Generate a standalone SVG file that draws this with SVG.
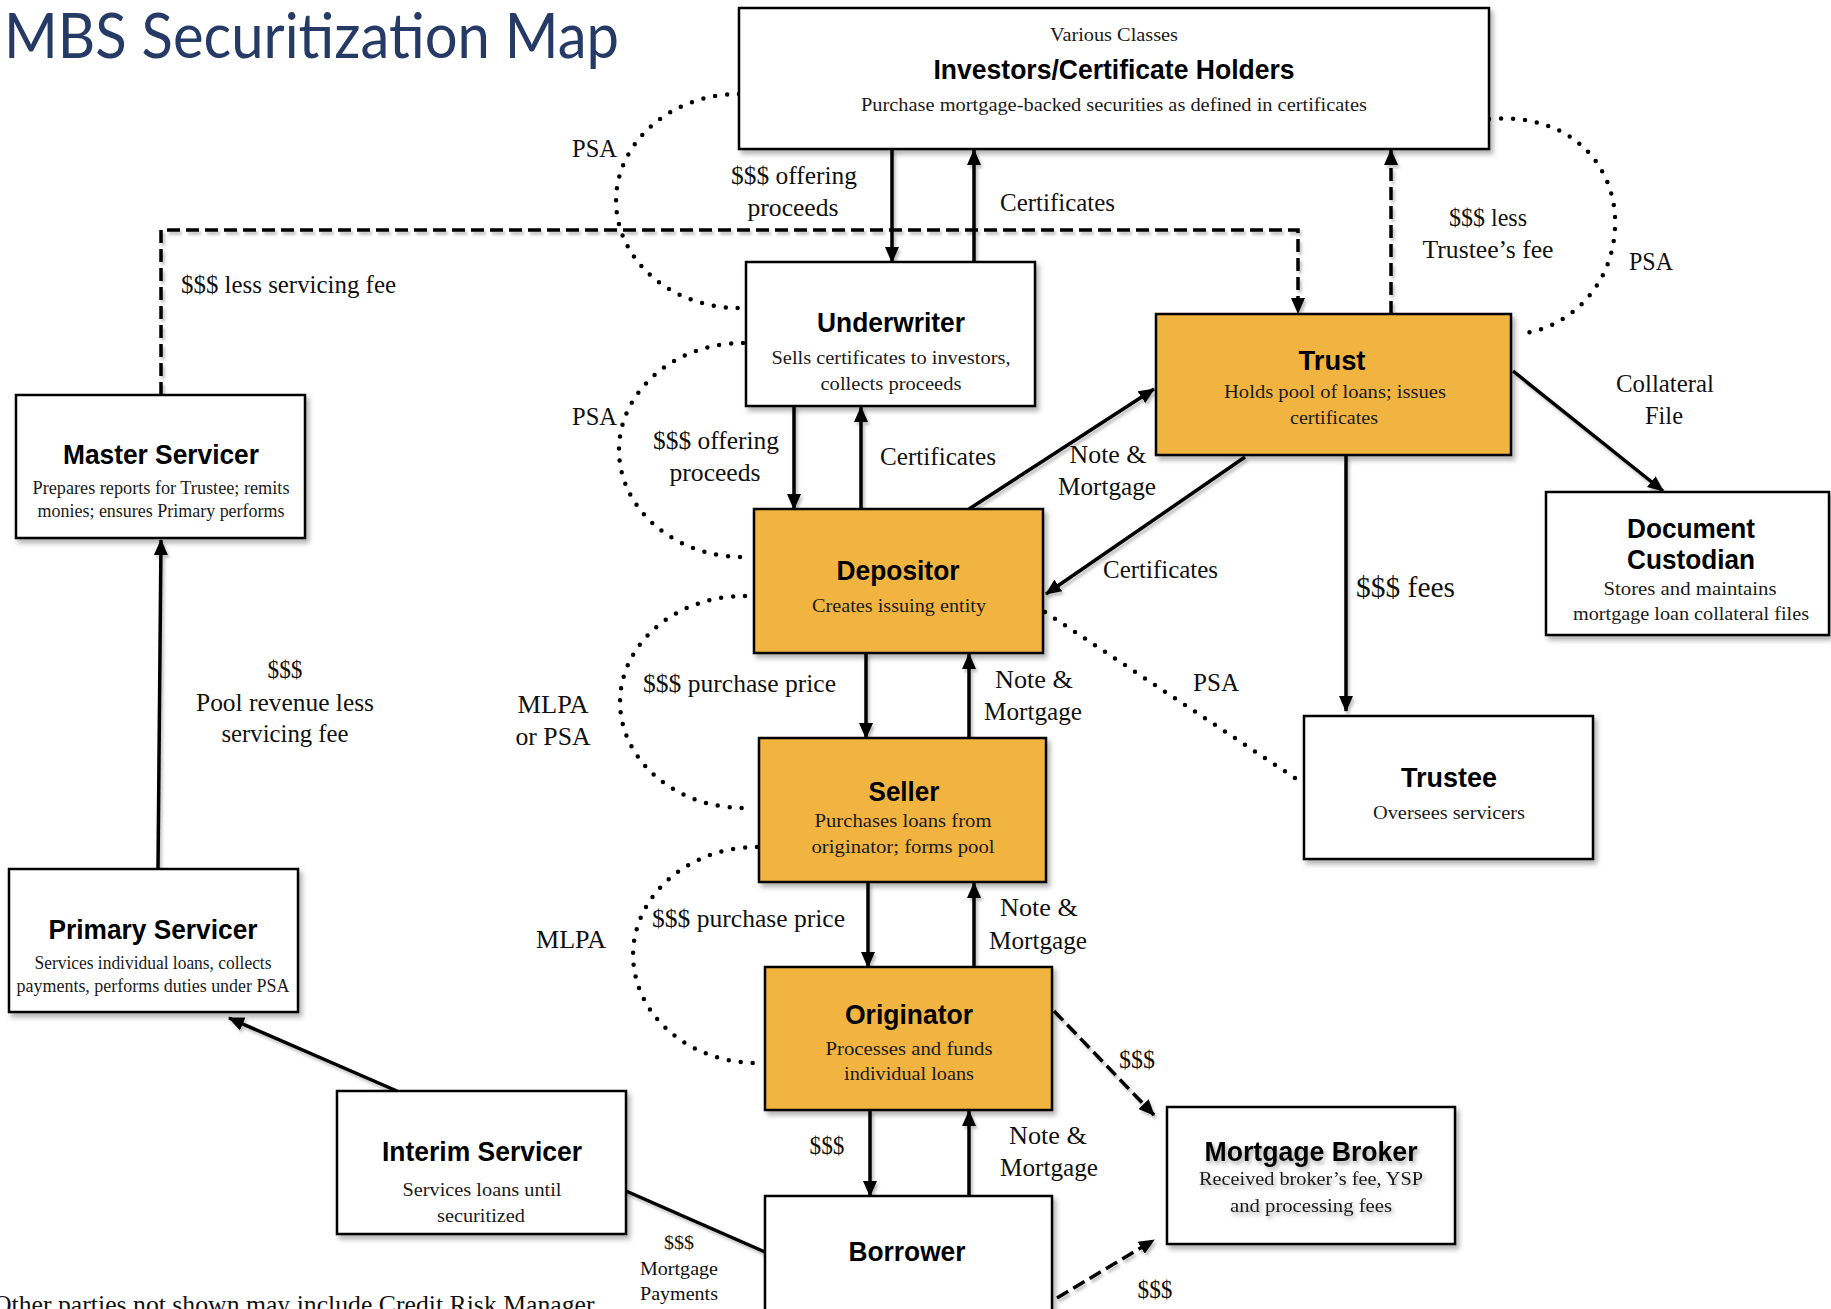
<svg xmlns="http://www.w3.org/2000/svg" width="1831" height="1309" viewBox="0 0 1831 1309">
  <style>
    .box { fill: #ffffff; stroke: #000000; stroke-width: 2.5; }
    .gold { fill: #F2B441; }
    .h { font-family: "Liberation Sans", Arial, sans-serif; font-weight: bold; font-size: 27px; text-anchor: middle; fill: #000; }
    .b { font-family: "Liberation Serif", "Times New Roman", serif; font-size: 19px; text-anchor: middle; fill: #1a1a1a; }
    .lbl { font-family: "Liberation Serif", "Times New Roman", serif; font-size: 25px; fill: #111; }
    .mid { text-anchor: middle; }
    .ln { stroke: #000; stroke-width: 3.5; fill: none; }
    .dash { stroke-dasharray: 13 6; }
    .dot { stroke: #000; stroke-width: 4.5; stroke-linecap: round; stroke-dasharray: 0 12; fill: none; }
  </style>
  <defs>
    <marker id="arrow" markerUnits="userSpaceOnUse" markerWidth="16" markerHeight="14" refX="15" refY="7" orient="auto">
      <path d="M0,0 L16,7 L0,14 z" fill="#000"/>
    </marker>
    <filter id="shadow" x="-10%" y="-10%" width="125%" height="130%">
      <feDropShadow dx="3" dy="4" stdDeviation="2.5" flood-color="#000" flood-opacity="0.3"/>
    </filter>
    <filter id="lineShadow" x="-5%" y="-5%" width="110%" height="110%">
      <feDropShadow dx="2" dy="3" stdDeviation="1.5" flood-color="#000" flood-opacity="0.25"/>
    </filter>
    <filter id="textShadow" x="-5%" y="-20%" width="110%" height="150%">
      <feDropShadow dx="2" dy="3" stdDeviation="2" flood-color="#000" flood-opacity="0.35"/>
    </filter>
  </defs>

  <rect width="1831" height="1309" fill="#ffffff"/>

  <!-- heading -->
  <text x="4" y="58" font-family="Lato, 'Open Sans', sans-serif" font-size="61" fill="#263A66" textLength="615" lengthAdjust="spacingAndGlyphs">MBS Securitization Map</text>

  <!-- agreements (dotted) -->
  <g id="agreements">
    <path class="dot" d="M739,94 A123,107 0 0 0 739,308"/>
    <path class="dot" d="M743,343 A124,107 0 0 0 743,557"/>
    <path class="dot" d="M745,596 A124,106 0 0 0 743,808"/>
    <path class="dot" d="M757,847 A124,108 0 0 0 757,1063"/>
    <path class="dot" d="M1489,119 C1575,112 1618,170 1615,228 C1612,290 1565,330 1518,334"/>
    <path class="dot" d="M1045,612 L1298,780"/>
  </g>

  <!-- connectors -->
  <g id="connectors" filter="url(#lineShadow)">
    <line class="ln" x1="892" y1="149" x2="892" y2="262" marker-end="url(#arrow)"/>
    <line class="ln" x1="974" y1="262" x2="974" y2="150" marker-end="url(#arrow)"/>
    <line class="ln dash" x1="1391" y1="314" x2="1391" y2="150" marker-end="url(#arrow)"/>
    <path class="ln dash" d="M161,395 V230 H1298 V313" marker-end="url(#arrow)"/>
    <line class="ln" x1="794" y1="406" x2="794" y2="509" marker-end="url(#arrow)"/>
    <line class="ln" x1="861" y1="509" x2="861" y2="407" marker-end="url(#arrow)"/>
    <line class="ln" x1="969" y1="509" x2="1154" y2="389" marker-end="url(#arrow)"/>
    <line class="ln" x1="1245" y1="457" x2="1046" y2="594" marker-end="url(#arrow)"/>
    <line class="ln" x1="1346" y1="455" x2="1346" y2="711" marker-end="url(#arrow)"/>
    <line class="ln" x1="1513" y1="371" x2="1663" y2="491" marker-end="url(#arrow)"/>
    <line class="ln" x1="866" y1="653" x2="866" y2="738" marker-end="url(#arrow)"/>
    <line class="ln" x1="969" y1="738" x2="969" y2="654" marker-end="url(#arrow)"/>
    <line class="ln" x1="868" y1="882" x2="868" y2="967" marker-end="url(#arrow)"/>
    <line class="ln" x1="974" y1="967" x2="974" y2="883" marker-end="url(#arrow)"/>
    <line class="ln" x1="870" y1="1110" x2="870" y2="1196" marker-end="url(#arrow)"/>
    <line class="ln" x1="969" y1="1196" x2="969" y2="1111" marker-end="url(#arrow)"/>
    <line class="ln dash" x1="1054" y1="1011" x2="1154" y2="1115" marker-end="url(#arrow)"/>
    <line class="ln dash" x1="1057" y1="1298" x2="1154" y2="1240" marker-end="url(#arrow)"/>
    <line class="ln" x1="158" y1="869" x2="161" y2="540" marker-end="url(#arrow)"/>
    <line class="ln" x1="397" y1="1091" x2="229" y2="1018" marker-end="url(#arrow)"/>
    <line class="ln" x1="626" y1="1191" x2="765" y2="1252"/>
  </g>

  <!-- connector labels -->
  <g id="labels" class="lbl">
    <text class="mid" x="794" y="184" textLength="126" lengthAdjust="spacingAndGlyphs">$$$ offering</text>
    <text class="mid" x="793" y="216" textLength="91" lengthAdjust="spacingAndGlyphs">proceeds</text>
    <text x="1000" y="211" textLength="115" lengthAdjust="spacingAndGlyphs">Certificates</text>
    <text class="mid" x="1488" y="226" textLength="78" lengthAdjust="spacingAndGlyphs">$$$ less</text>
    <text class="mid" x="1488" y="258" textLength="131" lengthAdjust="spacingAndGlyphs">Trustee’s fee</text>
    <text x="1629" y="270" textLength="44" lengthAdjust="spacingAndGlyphs">PSA</text>
    <text x="181" y="293" textLength="215" lengthAdjust="spacingAndGlyphs">$$$ less servicing fee</text>
    <text x="572" y="157" textLength="45" lengthAdjust="spacingAndGlyphs">PSA</text>
    <text x="572" y="425" textLength="45" lengthAdjust="spacingAndGlyphs">PSA</text>
    <text class="mid" x="716" y="449" textLength="126" lengthAdjust="spacingAndGlyphs">$$$ offering</text>
    <text class="mid" x="715" y="481" textLength="91" lengthAdjust="spacingAndGlyphs">proceeds</text>
    <text x="880" y="465" textLength="116" lengthAdjust="spacingAndGlyphs">Certificates</text>
    <text class="mid" x="1108" y="463" textLength="77" lengthAdjust="spacingAndGlyphs">Note &amp;</text>
    <text class="mid" x="1107" y="495" textLength="98" lengthAdjust="spacingAndGlyphs">Mortgage</text>
    <text class="mid" x="1665" y="392" textLength="98" lengthAdjust="spacingAndGlyphs">Collateral</text>
    <text class="mid" x="1664" y="424" textLength="38" lengthAdjust="spacingAndGlyphs">File</text>
    <text x="1103" y="578" textLength="115" lengthAdjust="spacingAndGlyphs">Certificates</text>
    <text x="1356" y="597" font-size="29" textLength="99" lengthAdjust="spacingAndGlyphs">$$$ fees</text>
    <text x="1193" y="691" textLength="46" lengthAdjust="spacingAndGlyphs">PSA</text>
    <text x="643" y="692" textLength="193" lengthAdjust="spacingAndGlyphs">$$$ purchase price</text>
    <text class="mid" x="1034" y="688" textLength="78" lengthAdjust="spacingAndGlyphs">Note &amp;</text>
    <text class="mid" x="1033" y="720" textLength="98" lengthAdjust="spacingAndGlyphs">Mortgage</text>
    <text class="mid" x="553" y="713" textLength="71" lengthAdjust="spacingAndGlyphs">MLPA</text>
    <text class="mid" x="553" y="745" textLength="75" lengthAdjust="spacingAndGlyphs">or PSA</text>
    <text class="mid" x="285" y="678" textLength="35" lengthAdjust="spacingAndGlyphs">$$$</text>
    <text class="mid" x="285" y="711" textLength="178" lengthAdjust="spacingAndGlyphs">Pool revenue less</text>
    <text class="mid" x="285" y="742" textLength="127" lengthAdjust="spacingAndGlyphs">servicing fee</text>
    <text x="652" y="927" textLength="193" lengthAdjust="spacingAndGlyphs">$$$ purchase price</text>
    <text class="mid" x="1039" y="916" textLength="78" lengthAdjust="spacingAndGlyphs">Note &amp;</text>
    <text class="mid" x="1038" y="949" textLength="98" lengthAdjust="spacingAndGlyphs">Mortgage</text>
    <text class="mid" x="571" y="948" textLength="70" lengthAdjust="spacingAndGlyphs">MLPA</text>
    <text class="mid" x="1137" y="1068" textLength="36" lengthAdjust="spacingAndGlyphs">$$$</text>
    <text class="mid" x="827" y="1154" textLength="35" lengthAdjust="spacingAndGlyphs">$$$</text>
    <text class="mid" x="1048" y="1144" textLength="78" lengthAdjust="spacingAndGlyphs">Note &amp;</text>
    <text class="mid" x="1049" y="1176" textLength="98" lengthAdjust="spacingAndGlyphs">Mortgage</text>
    <text class="mid" x="1155" y="1298" textLength="35" lengthAdjust="spacingAndGlyphs">$$$</text>
    <text class="mid" x="679" y="1249" font-size="19" textLength="30" lengthAdjust="spacingAndGlyphs">$$$</text>
    <text class="mid" x="679" y="1275" font-size="19" textLength="78" lengthAdjust="spacingAndGlyphs">Mortgage</text>
    <text class="mid" x="679" y="1300" font-size="19" textLength="78" lengthAdjust="spacingAndGlyphs">Payments</text>
  </g>

  <!-- parties -->
  <g id="investors">
    <rect class="box" x="739" y="8" width="750" height="141" filter="url(#shadow)"/>
    <text class="b" x="1114" y="41" textLength="128" lengthAdjust="spacingAndGlyphs">Various Classes</text>
    <text class="h" x="1114" y="79" textLength="361" lengthAdjust="spacingAndGlyphs">Investors/Certificate Holders</text>
    <text class="b" x="1114" y="111" textLength="506" lengthAdjust="spacingAndGlyphs">Purchase mortgage-backed securities as defined in certificates</text>
  </g>

  <g id="underwriter">
    <rect class="box" x="746" y="262" width="289" height="144" filter="url(#shadow)"/>
    <text class="h" x="891" y="332" textLength="148" lengthAdjust="spacingAndGlyphs">Underwriter</text>
    <text class="b" x="891" y="364" textLength="239" lengthAdjust="spacingAndGlyphs">Sells certificates to investors,</text>
    <text class="b" x="891" y="390" textLength="141" lengthAdjust="spacingAndGlyphs">collects proceeds</text>
  </g>

  <g id="trust">
    <rect class="box gold" x="1156" y="314" width="355" height="141" filter="url(#shadow)"/>
    <text class="h" x="1332" y="370" textLength="67" lengthAdjust="spacingAndGlyphs">Trust</text>
    <text class="b" x="1335" y="398" textLength="222" lengthAdjust="spacingAndGlyphs">Holds pool of loans; issues</text>
    <text class="b" x="1334" y="424" textLength="88" lengthAdjust="spacingAndGlyphs">certificates</text>
  </g>

  <g id="master-servicer">
    <rect class="box" x="16" y="395" width="289" height="143" filter="url(#shadow)"/>
    <text class="h" x="161" y="464" textLength="196" lengthAdjust="spacingAndGlyphs">Master Servicer</text>
    <text class="b" x="161" y="494" textLength="257" lengthAdjust="spacingAndGlyphs">Prepares reports for Trustee; remits</text>
    <text class="b" x="161" y="517" textLength="247" lengthAdjust="spacingAndGlyphs">monies; ensures Primary performs</text>
  </g>

  <g id="depositor">
    <rect class="box gold" x="754" y="509" width="289" height="144" filter="url(#shadow)"/>
    <text class="h" x="898" y="580" textLength="123" lengthAdjust="spacingAndGlyphs">Depositor</text>
    <text class="b" x="899" y="612" textLength="174" lengthAdjust="spacingAndGlyphs">Creates issuing entity</text>
  </g>

  <g id="document-custodian">
    <rect class="box" x="1546" y="492" width="283" height="143" filter="url(#shadow)"/>
    <text class="h" x="1691" y="538" textLength="128" lengthAdjust="spacingAndGlyphs">Document</text>
    <text class="h" x="1691" y="569" textLength="128" lengthAdjust="spacingAndGlyphs">Custodian</text>
    <text class="b" x="1690" y="595" textLength="173" lengthAdjust="spacingAndGlyphs">Stores and maintains</text>
    <text class="b" x="1691" y="620" textLength="236" lengthAdjust="spacingAndGlyphs">mortgage loan collateral files</text>
  </g>

  <g id="trustee">
    <rect class="box" x="1304" y="716" width="289" height="143" filter="url(#shadow)"/>
    <text class="h" x="1449" y="787" textLength="96" lengthAdjust="spacingAndGlyphs">Trustee</text>
    <text class="b" x="1449" y="819" textLength="152" lengthAdjust="spacingAndGlyphs">Oversees servicers</text>
  </g>

  <g id="seller">
    <rect class="box gold" x="759" y="738" width="287" height="144" filter="url(#shadow)"/>
    <text class="h" x="904" y="801" textLength="71" lengthAdjust="spacingAndGlyphs">Seller</text>
    <text class="b" x="903" y="827" textLength="177" lengthAdjust="spacingAndGlyphs">Purchases loans from</text>
    <text class="b" x="903" y="853" textLength="183" lengthAdjust="spacingAndGlyphs">originator; forms pool</text>
  </g>

  <g id="primary-servicer">
    <rect class="box" x="9" y="869" width="289" height="143" filter="url(#shadow)"/>
    <text class="h" x="153" y="939" textLength="209" lengthAdjust="spacingAndGlyphs">Primary Servicer</text>
    <text class="b" x="153" y="969" textLength="237" lengthAdjust="spacingAndGlyphs">Services individual loans, collects</text>
    <text class="b" x="153" y="992" textLength="273" lengthAdjust="spacingAndGlyphs">payments, performs duties under PSA</text>
  </g>

  <g id="originator">
    <rect class="box gold" x="765" y="967" width="287" height="143" filter="url(#shadow)"/>
    <text class="h" x="909" y="1024" textLength="128" lengthAdjust="spacingAndGlyphs">Originator</text>
    <text class="b" x="909" y="1055" textLength="167" lengthAdjust="spacingAndGlyphs">Processes and funds</text>
    <text class="b" x="909" y="1080" textLength="130" lengthAdjust="spacingAndGlyphs">individual loans</text>
  </g>

  <g id="mortgage-broker">
    <rect class="box" x="1167" y="1107" width="288" height="137" filter="url(#shadow)"/>
    <g filter="url(#textShadow)">
      <text class="h" x="1311" y="1161" textLength="213" lengthAdjust="spacingAndGlyphs">Mortgage Broker</text>
      <text class="b" x="1311" y="1185" textLength="224" lengthAdjust="spacingAndGlyphs">Received broker’s fee, YSP</text>
      <text class="b" x="1311" y="1212" textLength="162" lengthAdjust="spacingAndGlyphs">and processing fees</text>
    </g>
  </g>

  <g id="interim-servicer">
    <rect class="box" x="337" y="1091" width="289" height="143" filter="url(#shadow)"/>
    <text class="h" x="482" y="1161" textLength="200" lengthAdjust="spacingAndGlyphs">Interim Servicer</text>
    <text class="b" x="482" y="1196" textLength="159" lengthAdjust="spacingAndGlyphs">Services loans until</text>
    <text class="b" x="481" y="1222" textLength="88" lengthAdjust="spacingAndGlyphs">securitized</text>
  </g>

  <g id="borrower">
    <rect class="box" x="765" y="1196" width="287" height="140" filter="url(#shadow)"/>
    <text class="h" x="907" y="1261" textLength="117" lengthAdjust="spacingAndGlyphs">Borrower</text>
  </g>

  <!-- footnote, running off the lower edge -->
  <text x="-7" y="1313" font-family="'Liberation Serif', serif" font-size="26" fill="#111" textLength="607" lengthAdjust="spacingAndGlyphs">Other parties not shown may include Credit Risk Manager,</text>
</svg>
